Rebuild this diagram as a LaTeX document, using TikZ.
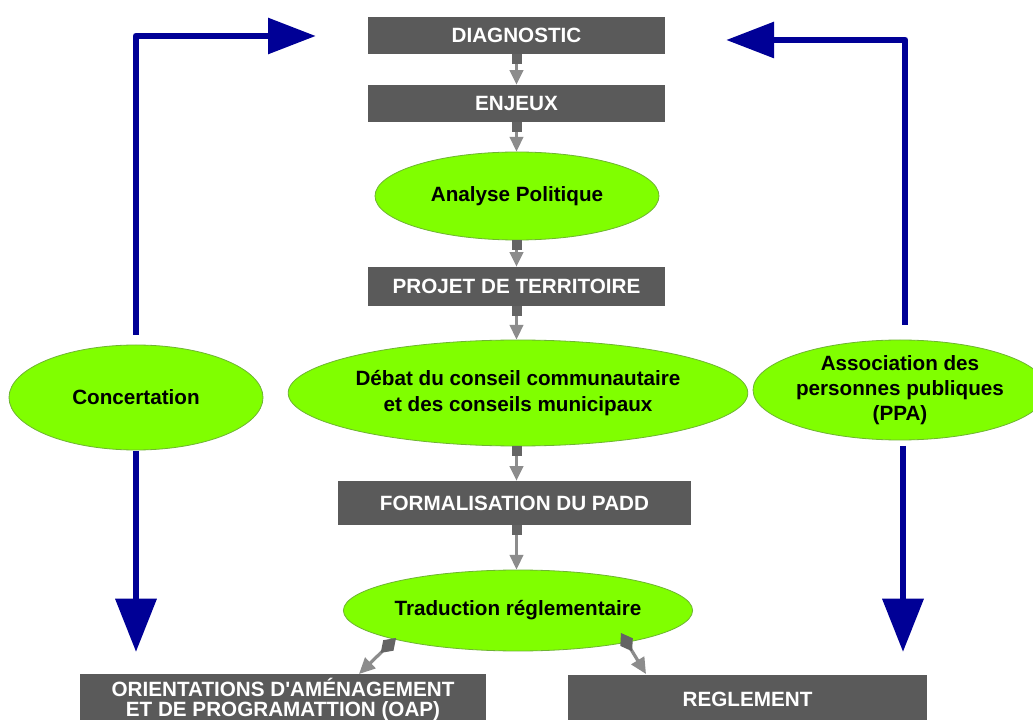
\documentclass[tikz,border=0pt]{standalone}
\usepackage{fontspec}
\setmainfont{Liberation Sans}
\usetikzlibrary{arrows.meta,shapes.geometric}
\definecolor{boxgray}{RGB}{90,90,90}
\definecolor{linegray}{RGB}{140,140,140}
\definecolor{tipgray}{RGB}{100,100,100}
\definecolor{ellgreen}{RGB}{128,255,0}
\definecolor{ellborder}{RGB}{110,180,50}
\definecolor{navyblue}{RGB}{0,0,150}
\tikzset{
  graybox/.style={rectangle, fill=boxgray, text=white, font=\bfseries\fontsize{15.5pt}{19pt}\selectfont, inner sep=0pt, align=center},
  greenell/.style={ellipse, fill=ellgreen, draw=ellborder, line width=0.6pt, text=black, font=\bfseries\fontsize{15.5pt}{19pt}\selectfont, inner sep=0pt, align=center},
  grayconn/.style={draw=linegray, line width=2.2pt, {Square[length=7.5pt,width=7.5pt,color=tipgray]}-{Triangle[length=11pt,width=10pt,color=linegray]}},
  grayconnd/.style={draw=linegray, line width=2.4pt, {Diamond[length=16pt,width=11pt,color=tipgray]}-{Triangle[length=12pt,width=11pt,color=linegray]}},
  bluearrow/.style={draw=navyblue, line width=5.2pt, line join=round, -{Triangle[length=36pt,width=26pt,color=navyblue]}},
  bluearrowb/.style={draw=navyblue, line width=5.2pt, -{Triangle[length=40pt,width=30pt,color=navyblue]}}
}
\begin{document}
\begin{tikzpicture}[x=0.75pt,y=-0.75pt]
\useasboundingbox (0,0) rectangle (1033,720);
\fill[white] (0,0) rectangle (1033,720);

\node[graybox, minimum width=222.75pt, minimum height=27.75pt] (diag) at (516.5,35.5) {DIAGNOSTIC};
\node[graybox, minimum width=222.75pt, minimum height=27.75pt] (enj) at (516.5,103.5) {ENJEUX};
\node[greenell, minimum width=213pt, minimum height=66pt] (ana) at (517,196) {Analyse Politique};
\node[graybox, minimum width=222.75pt, minimum height=29.25pt] (proj) at (516.5,286.5) {PROJET DE TERRITOIRE};
\node[greenell, minimum width=307.5pt, minimum height=79.5pt] (deb) at (518,393) {Débat du conseil communautaire\\et des conseils municipaux};
\node[graybox, minimum width=264.75pt, minimum height=33pt] (form) at (514.5,503) {FORMALISATION DU PADD};
\node[greenell, minimum width=244.5pt, minimum height=60.75pt] (trad) at (518,610.5) {Traduction réglementaire};
\node[graybox, minimum width=304.5pt, minimum height=38pt, font=\bfseries\fontsize{15.5pt}{15pt}\selectfont] (oap) at (283,699) {ORIENTATIONS D\textquotesingle AMÉNAGEMENT\\ET DE PROGRAMATTION (OAP)};
\node[graybox, minimum width=269.25pt, minimum height=36pt] (reg) at (747.5,699) {REGLEMENT};
\node[greenell, minimum width=190.5pt, minimum height=78.75pt] (conc) at (136,397.5) {Concertation};
\node[greenell, minimum width=201pt, minimum height=75pt] (ppa) at (900,390) {Association des\\personnes publiques\\(PPA)};

% gray connectors
\draw[grayconn] (diag.south) -- (diag.south |- enj.north);
\draw[grayconn] (enj.south) -- (enj.south |- ana.north);
\draw[grayconn] (proj.north |- ana.south) -- (proj.north);
\draw[grayconn] (proj.south) -- (proj.south |- deb.north);
\draw[grayconn] (proj.south |- deb.south) -- (proj.south |- form.north);
\draw[grayconn] (proj.south |- form.south) -- (proj.south |- trad.north);
\coordinate (t1) at (396,638);
\coordinate (o1) at (359,674);
\coordinate (t2) at (621,633);
\coordinate (r1) at (646,674);
\draw[grayconnd] (t1) -- (o1);
\draw[grayconnd] (t2) -- (r1);

% blue arrows
\coordinate (lt) at (136,335);
\coordinate (ltend) at (316,36);
\draw[bluearrow] (lt) |- (ltend);
\coordinate (rt) at (905,325);
\coordinate (rtend) at (726,40);
\draw[bluearrow] (rt) |- (rtend);
\coordinate (lb) at (136,451);
\coordinate (lbend) at (136,652);
\draw[bluearrowb] (lb) -- (lbend);
\coordinate (rb) at (903,446);
\coordinate (rbend) at (903,652);
\draw[bluearrowb] (rb) -- (rbend);
\end{tikzpicture}
\end{document}
